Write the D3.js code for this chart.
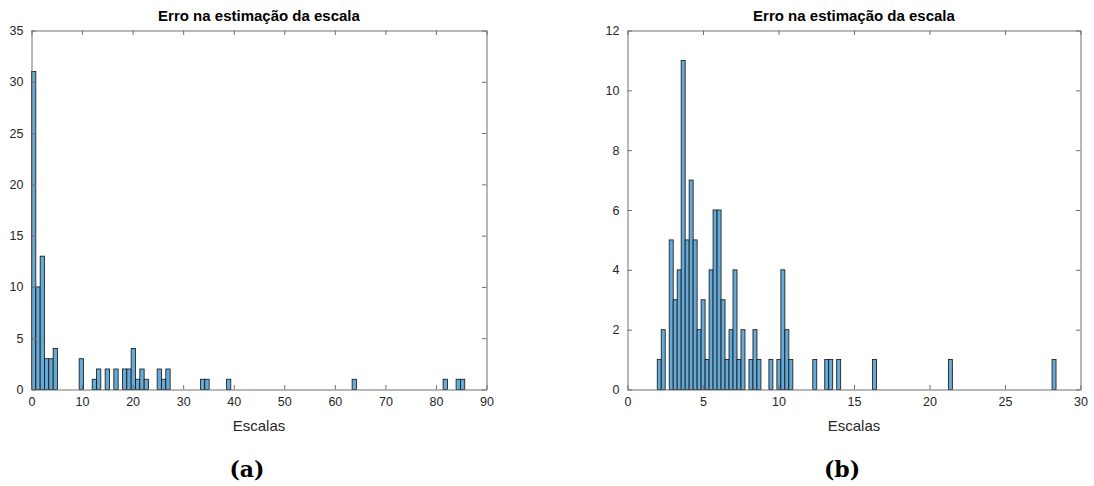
<!DOCTYPE html>
<html>
<head>
<meta charset="utf-8">
<script src="https://cdn.jsdelivr.net/npm/d3@7"></script>
<style>
  html, body { margin: 0; padding: 0; background: #fff; }
  svg { display: block; }
  .tick-label { font-family: "Liberation Sans", Arial, sans-serif; font-size: 12.5px; fill: #262626; }
  .title { font-family: "Liberation Sans", Arial, sans-serif; font-size: 15px; font-weight: bold; fill: #000; }
  .xlabel { font-family: "Liberation Sans", Arial, sans-serif; font-size: 15px; fill: #262626; }
  .caption { font-family: "DejaVu Serif", "Liberation Serif", serif; font-size: 22px; font-weight: bold; fill: #000; }
</style>
</head>
<body>
<svg id="chart" width="1094" height="486"></svg>
<script>
// Panel (a): histogram of scale estimation error, 100 bins
const titleText = "Erro na estimação da escala";
const xLabelText = "Escalas";

const binStartA = 0;
const binWidthA = 0.857;
const binIndexA = [0, 1, 2, 3, 4, 5, 11, 14, 15, 17, 19, 21, 22, 23, 24, 25, 26, 29, 30, 31, 39, 40, 45, 74, 95, 98, 99];
const countsA   = [31, 10, 13, 3, 3, 4, 3, 1, 2, 2, 2, 2, 2, 4, 1, 2, 1, 2, 1, 2, 1, 1, 1, 1, 1, 1, 1];
const xTicksA = [0, 10, 20, 30, 40, 50, 60, 70, 80, 90];
const yTicksA = [0, 5, 10, 15, 20, 25, 30, 35];

// Panel (b): same measure, second data set
const binStartB = 1.97;
const binWidthB = 0.2641;
const binIndexB = [0, 1, 3, 4, 5, 6, 7, 8, 9, 10, 11, 12, 13, 14, 15, 16, 17, 18, 19, 20, 21, 23, 24, 25, 28, 30, 31, 32, 33, 39, 42, 43, 45, 54, 73, 99];
const countsB   = [1, 2, 5, 3, 4, 11, 5, 7, 5, 2, 3, 1, 4, 6, 6, 3, 1, 2, 4, 1, 2, 1, 2, 1, 1, 1, 4, 2, 1, 1, 1, 1, 1, 1, 1, 1];
const xTicksB = [0, 5, 10, 15, 20, 25, 30];
const yTicksB = [0, 2, 4, 6, 8, 10, 12];

const captions = ["(a)", "(b)"];

const svg = d3.select("#chart");
svg.append("rect").attr("width", 1094).attr("height", 486).attr("fill", "#fff");

const axisColor = "#707070";
const tickLen = 4.5;

function drawPanel(cfg) {
  const { left, right, top, bottom, xDomain, yDomain, xTicks, yTicks,
          binStart, binWidth, binIndex, counts, caption, captionX } = cfg;
  const x = d3.scaleLinear().domain(xDomain).range([left, right]);
  const y = d3.scaleLinear().domain(yDomain).range([bottom, top]);
  const g = svg.append("g");

  // bars
  const bins = binIndex.map((b, i) => ({
    x0: binStart + b * binWidth,
    x1: binStart + (b + 1) * binWidth,
    n: counts[i]
  }));
  g.append("g").selectAll("rect").data(bins).join("rect")
    .attr("x", d => x(d.x0))
    .attr("y", d => y(d.n))
    .attr("width", d => x(d.x1) - x(d.x0))
    .attr("height", d => y(0) - y(d.n))
    .attr("fill", "#66aad7")
    .attr("stroke", "#111")
    .attr("stroke-width", 0.8);

  // axes: bottom + left labelled, top + right mirrored ticks only
  const axB = d3.axisBottom(x).tickValues(xTicks).tickSizeInner(-tickLen).tickSizeOuter(0).tickPadding(8).tickFormat(d3.format("d"));
  const axT = d3.axisTop(x).tickValues(xTicks).tickSizeInner(-tickLen).tickSizeOuter(0).tickFormat("");
  const axL = d3.axisLeft(y).tickValues(yTicks).tickSizeInner(-tickLen).tickSizeOuter(0).tickPadding(8).tickFormat(d3.format("d"));
  const axR = d3.axisRight(y).tickValues(yTicks).tickSizeInner(-tickLen).tickSizeOuter(0).tickFormat("");

  const style = sel => {
    sel.select(".domain").attr("stroke", axisColor).attr("stroke-width", 1);
    sel.selectAll(".tick line").attr("stroke", axisColor).attr("stroke-width", 1);
    sel.selectAll(".tick text").attr("class", "tick-label").attr("font-family", null).attr("font-size", null).attr("fill", null);
    sel.attr("font-family", null).attr("font-size", null);
  };
  g.append("g").attr("transform", `translate(0,${bottom})`).call(axB).call(style);
  g.append("g").attr("transform", `translate(0,${top})`).call(axT).call(style);
  g.append("g").attr("transform", `translate(${left},0)`).call(axL).call(style);
  g.append("g").attr("transform", `translate(${right},0)`).call(axR).call(style);

  const cx = (left + right) / 2;
  g.append("text").attr("class", "title").attr("x", cx).attr("y", 21)
    .attr("text-anchor", "middle").text(titleText);
  g.append("text").attr("class", "xlabel").attr("x", cx).attr("y", 431)
    .attr("text-anchor", "middle").text(xLabelText);
  g.append("text").attr("class", "caption").attr("x", captionX).attr("y", 477)
    .attr("text-anchor", "middle").text(caption);
}

drawPanel({
  left: 31.5, right: 486.5, top: 30.5, bottom: 389.5,
  xDomain: [0, 90], yDomain: [0, 35], xTicks: xTicksA, yTicks: yTicksA,
  binStart: binStartA, binWidth: binWidthA, binIndex: binIndexA, counts: countsA,
  caption: captions[0], captionX: 247
});

drawPanel({
  left: 627.5, right: 1080.5, top: 30.5, bottom: 389.5,
  xDomain: [0, 30], yDomain: [0, 12], xTicks: xTicksB, yTicks: yTicksB,
  binStart: binStartB, binWidth: binWidthB, binIndex: binIndexB, counts: countsB,
  caption: captions[1], captionX: 842
});
</script>
</body>
</html>
